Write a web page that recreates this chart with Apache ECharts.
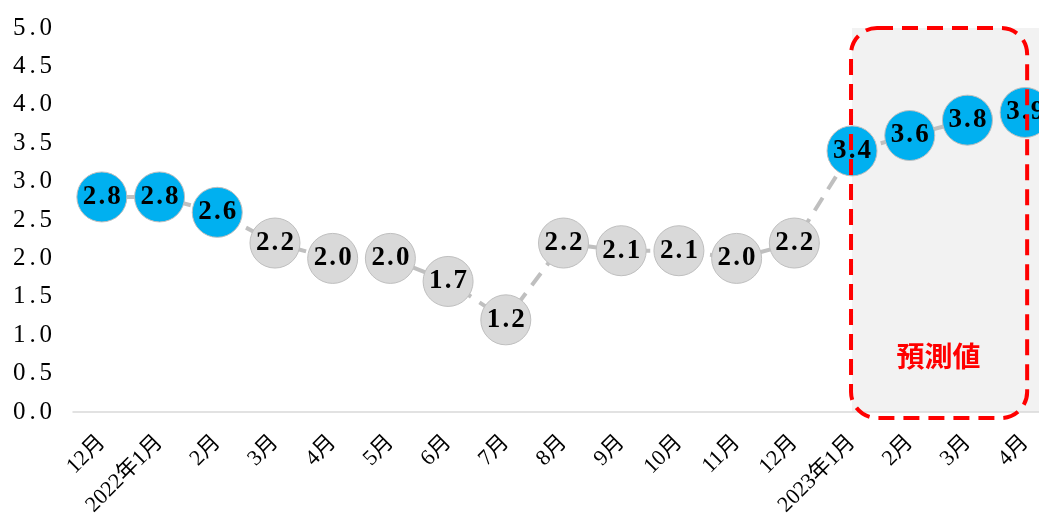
<!DOCTYPE html>
<html>
<head>
<meta charset="utf-8">
<script src="https://cdn.jsdelivr.net/npm/echarts@6/dist/echarts.min.js"></script>
<style>
  html, body { margin: 0; padding: 0; background: #ffffff; }
  #chart { width: 1039px; height: 526px; }
</style>
</head>
<body>
<div id="chart"></div>
<script>
// Monthly values, Dec 2021 – Apr 2023 (last four are forecasts)
const categories = ['12月', '2022年1月', '2月', '3月', '4月', '5月', '6月', '7月', '8月',
  '9月', '10月', '11月', '12月', '2023年1月', '2月', '3月', '4月'];
const values = [2.8, 2.8, 2.6, 2.2, 2.0, 2.0, 1.7, 1.2, 2.2, 2.1, 2.1, 2.0, 2.2, 3.4, 3.6, 3.8, 3.9];
// Which points are drawn highlighted (blue)
const highlighted = [true, true, true, false, false, false, false, false, false,
  false, false, false, false, true, true, true, true];
const forecastStart = 13;       // index of 2023年1月
const forecastLabel = '預測値';

const BLUE = '#00B0F0';
const GREY = '#D9D9D9';
const serif = '"Liberation Serif", "Noto Sans CJK JP", serif';

// "2.8" -> rich fragments, so the decimal point gets a wide slot like the digits
const splitNumber = s => {
  const [a, b] = s.split('.');
  return '{d|' + a + '}{p|.}{d|' + b + '}';
};

const chart = echarts.init(document.getElementById('chart'), null, { renderer: 'canvas' });

const seriesData = values.map((v, i) => ({
  value: v,
  itemStyle: { color: highlighted[i] ? BLUE : GREY }
}));

chart.setOption({
  animation: false,
  backgroundColor: '#ffffff',
  // the plot runs past the right edge of the canvas, so the last point is cut
  grid: { left: 73, width: 981, top: 28, height: 384, containLabel: false, outerBoundsMode: 'none' },
  xAxis: {
    type: 'category',
    data: categories,
    boundaryGap: true,
    axisLine: { lineStyle: { color: '#D9D9D9', width: 1.5 } },
    axisTick: { show: false },
    axisLabel: {
      rotate: 45,
      margin: 27,
      interval: 0,
      hideOverlap: false,
      fontSize: 22,
      color: '#000000',
      fontFamily: serif
    }
  },
  yAxis: {
    type: 'value',
    min: 0,
    max: 5,
    interval: 0.5,
    axisLine: { show: false },
    axisTick: { show: false },
    splitLine: { show: false },
    axisLabel: {
      margin: 21,
      color: '#000000',
      formatter: v => splitNumber(v.toFixed(1)),
      rich: {
        d: { fontSize: 25, fontFamily: '"Liberation Serif", serif', color: '#000000' },
        p: { fontSize: 25, fontFamily: '"Liberation Serif", serif', color: '#000000', width: 14, align: 'center' }
      }
    }
  },
  series: [{
    type: 'line',
    data: seriesData,
    symbol: 'circle',
    symbolSize: 50,
    z: 3,
    clip: false,
    lineStyle: { color: '#BFBFBF', width: 4, type: [15, 10] },
    itemStyle: { borderColor: '#BFBFBF', borderWidth: 1 },
    label: {
      show: true,
      position: 'inside',
      formatter: p => splitNumber(p.value.toFixed(1)),
      rich: {
        d: { fontSize: 27, fontWeight: 'bold', fontFamily: '"Liberation Serif", serif', color: '#000000' },
        p: { fontSize: 27, fontWeight: 'bold', fontFamily: '"Liberation Serif", serif', color: '#000000', width: 11, align: 'center' }
      }
    }
  }]
});

// Forecast region: grey band plus a red dashed rounded frame and its caption
const px = i => chart.convertToPixel({ xAxisIndex: 0 }, i);
const py = v => chart.convertToPixel({ yAxisIndex: 0 }, v);
const last = categories.length - 1;
const xStart = px(forecastStart);
const xLast = px(last);
const yTop = py(5);
const yBase = py(0);
const width = chart.getWidth();

chart.setOption({
  graphic: [
    {
      type: 'rect',
      z: 0,
      silent: true,
      shape: { x: xStart, y: yTop, width: width - xStart, height: yBase - yTop },
      style: { fill: '#F2F2F2' }
    },
    {
      type: 'rect',
      z: 100,
      silent: true,
      shape: { x: xStart - 1, y: yTop, width: xLast + 3 - xStart, height: yBase + 6 - yTop, r: 26 },
      style: { fill: null, stroke: '#FF0000', lineWidth: 4, lineDash: [16, 9] }
    },
    {
      type: 'text',
      z: 100,
      silent: true,
      x: (px(forecastStart + 1) + px(forecastStart + 2)) / 2,
      y: py(0.72),
      style: {
        text: forecastLabel,
        fill: '#FF0000',
        font: 'bold 28px "Noto Sans CJK JP", sans-serif',
        align: 'center',
        verticalAlign: 'middle'
      }
    }
  ]
});
</script>
</body>
</html>
